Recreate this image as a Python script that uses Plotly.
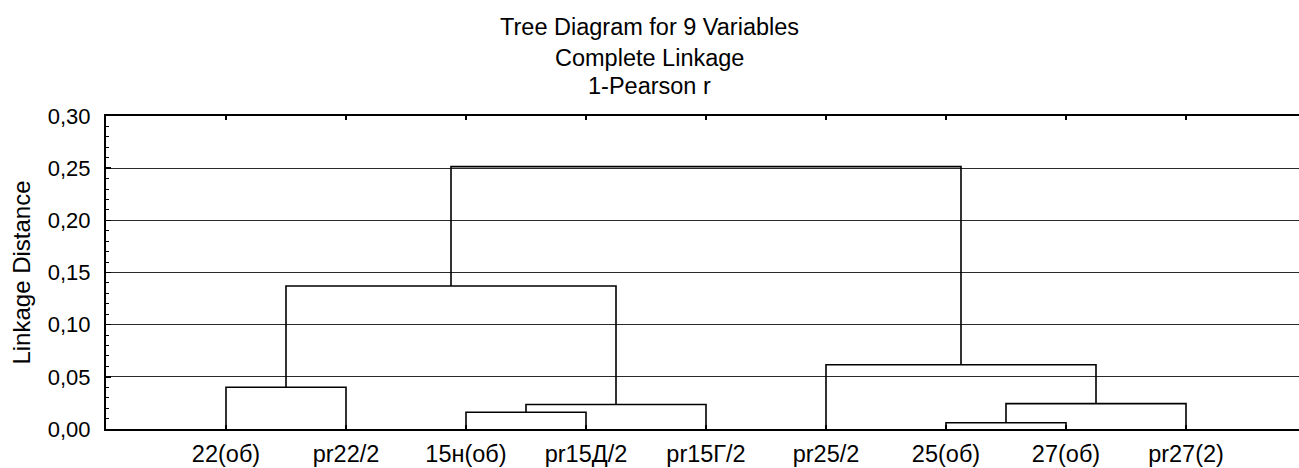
import plotly.graph_objects as go

# ---- data ----
leaf_labels = ["22(об)", "pr22/2", "15н(об)", "pr15Д/2", "pr15Г/2",
               "pr25/2", "25(об)", "27(об)", "pr27(2)"]
# merge steps: cluster ids 0..8 are leaves, each merge creates id 9, 10, ...
merge_left = [0, 2, 10, 9, 6, 13, 5, 12]
merge_right = [1, 3, 4, 11, 7, 8, 14, 15]
merge_height = [0.040, 0.016, 0.0235, 0.137, 0.006, 0.0243, 0.0616, 0.2515]

title_lines = ["Tree Diagram for 9 Variables", "Complete Linkage", "1-Pearson r"]
y_ticks = [0.00, 0.05, 0.10, 0.15, 0.20, 0.25, 0.30]

# ---- build dendrogram segments ----
pos = {i: i + 1 for i in range(len(leaf_labels))}
hgt = {i: 0.0 for i in range(len(leaf_labels))}
xs, ys = [], []
for k, (a, b, h) in enumerate(zip(merge_left, merge_right, merge_height)):
    xa, xb = pos[a], pos[b]
    xs += [xa, xa, xb, xb, None]
    ys += [hgt[a], h, h, hgt[b], None]
    nid = len(leaf_labels) + k
    pos[nid] = (xa + xb) / 2
    hgt[nid] = h

FONT = "Liberation Sans, Arial, sans-serif"

fig = go.Figure()
fig.add_trace(go.Scatter(x=xs, y=ys, mode="lines",
                         line=dict(color="black", width=1.6),
                         hoverinfo="skip", showlegend=False, cliponaxis=False))

fig.update_layout(
    width=1299, height=468,
    margin=dict(l=106, r=0, t=116, b=39, pad=0),
    paper_bgcolor="white", plot_bgcolor="white",
    separators=", ",
    font=dict(family=FONT, size=22, color="black"),
    showlegend=False,
    hovermode=False,
)

fig.update_xaxes(
    range=[0, (1299 - 106) / 120],
    tickmode="array",
    tickvals=list(range(1, len(leaf_labels) + 1)),
    ticktext=leaf_labels,
    ticks="inside", ticklen=4, tickwidth=1.5, tickcolor="black",
    showline=True, linecolor="black", linewidth=2, mirror="ticks",
    showgrid=False, zeroline=False,
    tickfont=dict(family=FONT, size=23.5, color="black"),
    ticklabelstandoff=3,
)

fig.update_yaxes(
    range=[0, 0.30],
    tickmode="array", tickvals=y_ticks, tickformat=".2f",
    ticks="inside", ticklen=5, tickwidth=1.5, tickcolor="black",
    minor=dict(ticks="inside", ticklen=3, tickwidth=1, tickcolor="black",
               dtick=0.01, showgrid=False),
    showline=True, linecolor="black", linewidth=2,
    showgrid=True, gridcolor="#2a2a2a", gridwidth=1,
    zeroline=False,
    tickfont=dict(family=FONT, size=22, color="black"),
    ticklabelstandoff=9,
    title=dict(text="Linkage Distance", font=dict(family=FONT, size=24, color="black"),
               standoff=10),
)

title_y_px = [27, 58, 86]
for txt, ypx in zip(title_lines, title_y_px):
    fig.add_annotation(
        text=txt, xref="paper", yref="paper",
        x=(649.5 - 106) / 1193, y=(429 - ypx) / 313,
        xanchor="center", yanchor="middle", showarrow=False,
        font=dict(family=FONT, size=23.5, color="black"),
    )

fig.write_html("out.html",
               config={"displayModeBar": False, "staticPlot": True},
               post_script="document.body.style.margin='0';document.body.style.padding='0';")
